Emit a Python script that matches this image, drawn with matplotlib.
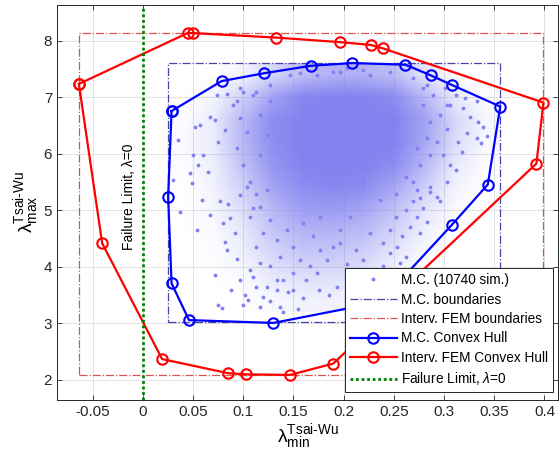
import numpy as np
import matplotlib.pyplot as plt
from matplotlib.colors import to_rgb

plt.rcParams['font.family'] = ['Liberation Sans', 'DejaVu Sans']
plt.rcParams['mathtext.fontset'] = 'custom'
plt.rcParams['mathtext.rm'] = 'Liberation Sans'
plt.rcParams['mathtext.it'] = 'Liberation Sans:italic'
plt.rcParams['axes.unicode_minus'] = False

# -----------------------------
# Data
# -----------------------------
# Interval FEM convex hull (two points sit behind the legend)
fem_hull_x = [-0.0637, 0.0445, 0.050, 0.133, 0.196, 0.227, 0.239, 0.399, 0.392,
              0.236, 0.216, 0.1896, 0.1465, 0.103, 0.085, 0.0192, -0.0405]
fem_hull_y = [7.24, 8.14, 8.14, 8.06, 7.98, 7.93, 7.87, 6.91, 5.83,
              3.23, 2.73, 2.29, 2.09, 2.10, 2.12, 2.37, 4.42]

# Monte Carlo convex hull
mc_hull_x = [0.0286, 0.0784, 0.121, 0.167, 0.2085, 0.2615, 0.287, 0.308, 0.356,
             0.3436, 0.308, 0.2367, 0.130, 0.046, 0.0286, 0.0252]
mc_hull_y = [6.76, 7.29, 7.43, 7.56, 7.61, 7.58, 7.39, 7.22, 6.84,
             5.46, 4.75, 3.38, 3.01, 3.06, 3.71, 5.24]

# bounding boxes [xmin, xmax, ymin, ymax]
mc_box = [0.0246, 0.356, 3.02, 7.61]
fem_box = [-0.0634, 0.3987, 2.08, 8.15]

# M.C. cloud: coverage of the dense part on a coarse grid (rows top -> bottom)
dens_x = [0.04, 0.07, 0.10, 0.13, 0.16, 0.19, 0.22, 0.25, 0.28, 0.31, 0.34]
dens_y = [7.4, 7.0, 6.6, 6.2, 5.8, 5.4, 5.0, 4.6, 4.2, 3.8, 3.4]
dens = [
    [0.00, 0.00, 0.05, 0.25, 0.45, 0.55, 0.55, 0.45, 0.15, 0.00, 0.00],
    [0.00, 0.05, 0.30, 0.70, 0.95, 1.00, 1.00, 0.90, 0.50, 0.12, 0.01],
    [0.01, 0.10, 0.50, 0.90, 1.00, 1.00, 1.00, 1.00, 0.70, 0.25, 0.04],
    [0.02, 0.10, 0.50, 0.90, 1.00, 1.00, 1.00, 1.00, 0.65, 0.22, 0.03],
    [0.01, 0.08, 0.42, 0.82, 1.00, 1.00, 1.00, 0.90, 0.50, 0.12, 0.01],
    [0.00, 0.06, 0.30, 0.68, 0.90, 0.95, 0.90, 0.65, 0.32, 0.06, 0.00],
    [0.00, 0.04, 0.20, 0.50, 0.72, 0.75, 0.65, 0.42, 0.15, 0.02, 0.00],
    [0.00, 0.02, 0.12, 0.38, 0.52, 0.52, 0.45, 0.26, 0.07, 0.00, 0.00],
    [0.00, 0.01, 0.07, 0.25, 0.35, 0.35, 0.28, 0.12, 0.02, 0.00, 0.00],
    [0.00, 0.00, 0.02, 0.12, 0.18, 0.18, 0.14, 0.05, 0.00, 0.00, 0.00],
    [0.00, 0.00, 0.00, 0.03, 0.06, 0.06, 0.04, 0.01, 0.00, 0.00, 0.00],
]

# individual M.C. samples that can be picked out around the dense part
mc_pts = [
    # left outskirts
    (0.0518, 6.48), (0.0568, 6.51), (0.0667, 6.66), (0.0717, 6.60), (0.0501, 5.98),
    (0.0551, 5.81), (0.0468, 5.66), (0.0601, 5.98), (0.065, 5.69), (0.0352, 6.25),
    (0.0302, 5.54), (0.0734, 7.04), (0.0834, 7.07), (0.0585, 5.19), (0.0767, 5.16),
    (0.0369, 4.98), (0.0667, 4.92), (0.0867, 4.86), (0.0485, 5.48), (0.075, 6.22),
    (0.0817, 6.42), (0.0535, 4.65), (0.0817, 4.45), (0.0717, 3.86), (0.075, 3.33),
    (0.0784, 3.27), (0.1016, 3.50), (0.1049, 3.42), (0.0883, 3.59), (0.0966, 3.77),
    (0.1066, 3.95), (0.1099, 3.83), (0.0933, 4.15), (0.0834, 4.30), (0.1165, 3.30),
    (0.1265, 3.39), (0.1365, 3.30), (0.0999, 3.33), (0.1232, 3.65), (0.1332, 3.77),
    (0.080, 4.77), (0.085, 5.12), (0.0916, 4.60),
    # right outskirts
    (0.319, 6.81), (0.3257, 6.66), (0.334, 6.57), (0.339, 6.48), (0.3324, 6.28),
    (0.3224, 6.37), (0.314, 6.22), (0.3174, 6.04), (0.3058, 5.81), (0.3124, 5.72),
    (0.3373, 6.19), (0.3423, 6.31), (0.3025, 5.51), (0.2859, 5.33), (0.2958, 5.16),
    (0.2759, 5.22), (0.3324, 6.93), (0.3207, 6.99), (0.3124, 7.04), (0.3008, 7.16),
    (0.3058, 6.87), (0.2859, 5.42), (0.2925, 5.24), (0.2792, 5.04), (0.2726, 4.89),
    (0.2659, 4.71), (0.2577, 4.54), (0.2527, 4.36), (0.246, 4.24), (0.2692, 5.16),
    (0.2826, 4.80), (0.2626, 4.18), (0.2759, 4.60), (0.256, 4.07), (0.2393, 4.01),
    (0.2294, 3.89), (0.2194, 3.80), (0.2062, 3.74), (0.1929, 3.65),
    # top edge
    (0.1265, 7.22), (0.1464, 7.40), (0.1564, 7.43), (0.173, 7.40), (0.1895, 7.46),
    (0.2029, 7.52), (0.1132, 7.10), (0.0999, 7.10), (0.0933, 6.93), (0.1962, 7.46),
    (0.2194, 7.49), (0.246, 7.46), (0.2692, 7.34), (0.2826, 7.22), (0.2261, 7.40),
    # lower tail
    (0.145, 3.55), (0.16, 3.45), (0.175, 3.60), (0.155, 3.25), (0.185, 3.50),
    (0.14, 3.20), (0.1033, 5.42), (0.1132, 5.30), (0.1232, 5.36), (0.1165, 5.07),
    (0.1066, 4.89), (0.1265, 4.83), (0.1198, 4.60), (0.1132, 4.36), (0.1332, 4.48),
    (0.1431, 4.65), (0.1497, 4.36), (0.1365, 4.18), (0.1265, 4.01), (0.1165, 4.07),
    (0.1564, 4.12), (0.1663, 4.01), (0.1497, 3.89), (0.1397, 3.77), (0.1763, 4.30),
    (0.183, 4.12), (0.1895, 4.36), (0.1696, 4.54), (0.1597, 4.77), (0.1763, 4.89),
    (0.1962, 4.65), (0.1332, 3.59), (0.1198, 3.47), (0.1132, 3.65), (0.1497, 3.59),
    (0.163, 3.77), (0.173, 3.89),
    # left flank
    (0.0899, 6.87), (0.0966, 6.63), (0.1033, 6.39), (0.0933, 6.10), (0.0999, 5.81),
    (0.1066, 5.51), (0.0966, 5.27), (0.1099, 5.04), (0.1165, 5.98), (0.1232, 6.34),
    (0.1165, 6.69), (0.1265, 6.93), (0.1099, 7.04), (0.0966, 7.16),
    # right flank
    (0.2792, 6.87), (0.2859, 6.57), (0.2925, 6.22), (0.2859, 5.98), (0.2759, 5.81),
    (0.2692, 5.51), (0.2958, 6.69), (0.3025, 6.45), (0.2992, 5.98), (0.2826, 6.28),
    (0.2726, 6.10), (0.2892, 7.04), (0.2792, 7.16), (0.3025, 6.87),
    # lower right
    (0.2194, 5.48), (0.236, 5.19), (0.2526, 4.89), (0.2261, 4.60), (0.2128, 4.30),
    (0.2029, 4.06), (0.2394, 4.42), (0.2526, 5.30), (0.2626, 5.01), (0.1962, 4.42),
    (0.2194, 4.12), (0.2460, 4.66), (0.2062, 4.89), (0.2327, 5.77), (0.2626, 5.60),
    (0.2726, 5.36),
]
mc_x = [p[0] for p in mc_pts]
mc_y = [p[1] for p in mc_pts]
n_sim = 10740

xticks = [-0.05, 0, 0.05, 0.1, 0.15, 0.2, 0.25, 0.3, 0.35, 0.4]
yticks = [2, 3, 4, 5, 6, 7, 8]

# -----------------------------
# Figure
# -----------------------------
dot_color = '#8282f0'
fig = plt.figure(figsize=(5.59, 4.62), dpi=100)
ax = fig.add_axes([57/559, 62/462, 501/559, 395/462])

# dense part of the cloud
rgba = np.zeros((len(dens_y), len(dens_x), 4))
rgba[..., :3] = to_rgb(dot_color)
rgba[..., 3] = np.array(dens) ** 0.8
dx = dens_x[1] - dens_x[0]
dy = dens_y[0] - dens_y[1]
ax.imshow(rgba, extent=[dens_x[0] - dx/2, dens_x[-1] + dx/2,
                        dens_y[-1] - dy/2, dens_y[0] + dy/2],
          origin='upper', aspect='auto', interpolation='bilinear', zorder=1)

ax.plot(mc_x, mc_y, '.', color=dot_color, ms=3.5, zorder=2,
        label='M.C. (%d sim.)' % n_sim)

x0, x1, y0, y1 = mc_box
ax.plot([x0, x1, x1, x0, x0], [y0, y0, y1, y1, y0], '-.', color='#4646a6',
        lw=0.9, zorder=3, label='M.C. boundaries')
x0, x1, y0, y1 = fem_box
ax.plot([x0, x1, x1, x0, x0], [y0, y0, y1, y1, y0], '-.', color='#dc5252',
        lw=0.9, zorder=3, label='Interv. FEM boundaries')

ax.plot(mc_hull_x + mc_hull_x[:1], mc_hull_y + mc_hull_y[:1], '-o', color='#0000ff',
        lw=1.6, ms=7.5, mfc='none', mew=1.5, zorder=4, label='M.C. Convex Hull')
ax.plot(fem_hull_x + fem_hull_x[:1], fem_hull_y + fem_hull_y[:1], '-o', color='#ff0000',
        lw=1.6, ms=7.5, mfc='none', mew=1.5, zorder=4, label='Interv. FEM Convex Hull')

ax.axvline(0, color='#008000', ls=(0, (1, 1)), lw=2, zorder=5,
           label=r'Failure Limit, $\lambda$=0')
ax.text(-0.0135, 5.25, 'Failure Limit, λ=0', rotation=90, ha='center', va='center',
        fontsize=10, color='black')

ax.set_xlim(-0.0855, 0.4135)
ax.set_ylim(1.646, 8.637)
ax.set_xticks(xticks)
ax.set_xticklabels(['%g' % t for t in xticks])
ax.set_yticks(yticks)
ax.tick_params(direction='in', length=3.5, top=True, right=True, labelsize=11,
               colors='#262626', width=0.6)
for s in ax.spines.values():
    s.set_color('#262626')
    s.set_linewidth(0.7)
ax.grid(True, color='#e3e3e3', lw=0.7)
ax.set_axisbelow(True)

ax.set_xlabel(r'$\mathrm{\lambda}^{\text{Tsai-Wu}}_{\text{min}}$', fontsize=14, labelpad=2)
ax.set_ylabel(r'$\mathrm{\lambda}^{\text{Tsai-Wu}}_{\text{max}}$', fontsize=14, labelpad=2)

leg = ax.legend(loc='lower right', bbox_to_anchor=(0.99, 0.02), borderaxespad=0,
                fontsize=9.8, fancybox=False, framealpha=1, edgecolor='#262626',
                handlelength=3.5, handletextpad=0.3, labelspacing=0.4,
                borderpad=0.35)
leg.get_frame().set_linewidth(0.7)
leg.set_zorder(10)

fig.savefig('out.png', dpi=100)
